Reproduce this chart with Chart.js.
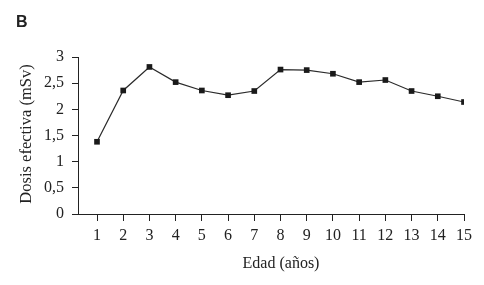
<!DOCTYPE html>
<html><head><meta charset="utf-8">
<script src="https://cdn.jsdelivr.net/npm/chart.js@4"></script>
<style>html,body{margin:0;padding:0;background:#fff}</style>
</head><body>
<canvas id="c" width="484" height="285"></canvas>
<script>
const panelLabel = 'B';
const ages = [1,2,3,4,5,6,7,8,9,10,11,12,13,14,15];
const dose = [1.38,2.36,2.81,2.52,2.36,2.27,2.35,2.76,2.75,2.68,2.52,2.56,2.35,2.25,2.14];
const yTicks = [0,0.5,1,1.5,2,2.5,3];
const yTitle = 'Dosis efectiva (mSv)';
const xTitle = 'Edad (años)';

const serif = '"Liberation Serif", "Times New Roman", serif';
const textColor = '#222';

const labelsPlugin = {
  id: 'labelsPlugin',
  afterDraw(chart) {
    const ctx = chart.ctx;
    ctx.save();
    ctx.fillStyle = textColor;
    ctx.font = 'bold 16px "Liberation Sans", Arial, sans-serif';
    ctx.textAlign = 'left';
    ctx.textBaseline = 'alphabetic';
    ctx.fillText(panelLabel, 16, 27);
    ctx.font = '16px ' + serif;
    ctx.textAlign = 'center';
    ctx.fillText(xTitle, 281, 268);
    ctx.font = '16.5px ' + serif;
    ctx.translate(31, 134);
    ctx.rotate(-Math.PI/2);
    ctx.fillText(yTitle, 0, 0);
    ctx.restore();
  }
};

new Chart(document.getElementById('c'), {
  type: 'line',
  data: {
    datasets: [{
      data: ages.map((a,i)=>({x:a, y:dose[i]})),
      borderColor: '#2a2a2a',
      borderWidth: 1.2,
      pointStyle: 'rect',
      pointRadius: 4,
      pointBackgroundColor: '#1a1a1a',
      pointBorderColor: '#1a1a1a',
      pointBorderWidth: 0,
      tension: 0
    }]
  },
  options: {
    responsive: false,
    animation: false,
    layout: { padding: { left: 0, top: 57, right: 20, bottom: 0 } },
    plugins: { legend: { display: false }, tooltip: { enabled: false }, title: { display: false } },
    scales: {
      x: {
        type: 'linear',
        min: 0.275, max: 15,
        afterBuildTicks(scale) { scale.ticks = ages.map(v => ({ value: v })); },
        afterFit(scale) { scale.height = 71; },
        grid: { drawOnChartArea: false, drawTicks: true, tickLength: 7, tickColor: '#222', lineWidth: 1 },
        border: { display: true, color: '#222', width: 1 },
        ticks: { color: textColor, font: { family: serif, size: 16 }, padding: 5, maxRotation: 0, autoSkip: false,
                 callback: v => String(v) }
      },
      y: {
        min: 0, max: 3,
        afterBuildTicks(scale) { scale.ticks = yTicks.map(v => ({ value: v })); },
        afterFit(scale) { scale.width = 78; },
        grid: { drawOnChartArea: false, drawTicks: true, tickLength: 6, tickColor: '#222', lineWidth: 1 },
        border: { display: true, color: '#222', width: 1 },
        ticks: { color: textColor, font: { family: serif, size: 16 }, padding: 8,
                 callback: v => String(v).replace('.', ',') }
      }
    }
  },
  plugins: [labelsPlugin]
});
</script>
</body></html>
